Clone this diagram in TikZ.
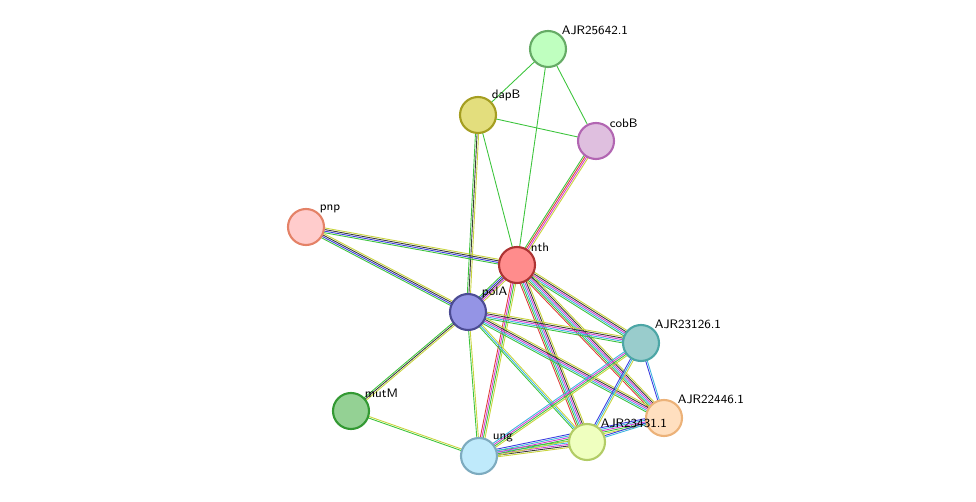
\documentclass[tikz,border=0pt]{standalone}
\usetikzlibrary{calc,backgrounds}
\definecolor{eg}{HTML}{3CC43C}
\definecolor{ey}{HTML}{C8D43C}
\definecolor{ek}{HTML}{3A3A3A}
\definecolor{eb}{HTML}{3C3CE0}
\definecolor{ec}{HTML}{3CB4E0}
\definecolor{em}{HTML}{D43CD4}
\definecolor{er}{HTML}{E03C3C}
\tikzset{
  prot/.style={circle,minimum size=36\unitpx,line width=1.2pt,inner sep=0},
  lbl/.style={anchor=south west,inner sep=0pt,font=\fontsize{7}{8}\sffamily}
}
\newlength\unitpx \setlength\unitpx{0.02cm}
% one line per evidence channel, side by side
\newcommand\edge[3]{%
  \def\nn{0}\foreach \c in {#3}{\xdef\nn{\the\numexpr\nn+1}}%
  \foreach \c [count=\i] in {#3}{%
    \pgfmathsetmacro\o{(\i-(\nn+1)/2)*0.9}%
    \draw[\c,line width=.5pt] ($(#1)!\o pt!90:(#2)$) -- ($(#2)!\o pt!-90:(#1)$);}}
\begin{document}
\begin{tikzpicture}[x=0.02cm,y=-0.02cm]
  \useasboundingbox (0,0) rectangle (976,502);
  \node[prot,draw=green!45!black!60,fill=green!25] (ajr25642) at (548,49) {};
  \node[prot,draw=olive!80,fill=yellow!45!olive!45] (dapB) at (478,115) {};
  \node[prot,draw=violet!60,fill=violet!25] (cobB) at (596,141) {};
  \node[prot,draw=red!40!brown!70,fill=red!20] (pnp) at (306,227) {};
  \node[prot,draw=red!60!black!80,fill=red!45] (nth) at (517,265) {};
  \node[prot,draw=blue!40!black!70,fill=blue!40!white!80!gray] (polA) at (468,312) {};
  \node[prot,draw=teal!70,fill=teal!40] (ajr23126) at (641,343) {};
  \node[prot,draw=green!50!black!80,fill=green!40!gray!60] (mutM) at (351,411) {};
  \node[prot,draw=orange!50!brown!60,fill=orange!25] (ajr22446) at (664,418) {};
  \node[prot,draw=lime!50!gray!80,fill=lime!25] (ajr23431) at (587,442) {};
  \node[prot,draw=cyan!40!gray!90,fill=cyan!25] (ung) at (479,456) {};

  \node[lbl] at (ajr25642.north east) {AJR25642.1};
  \node[lbl] at (dapB.north east) {dapB};
  \node[lbl] at (cobB.north east) {cobB};
  \node[lbl] at (pnp.north east) {pnp};
  \node[lbl] at (nth.north east) {nth};
  \node[lbl] at (polA.north east) {polA};
  \node[lbl] at (ajr23126.north east) {AJR23126.1};
  \node[lbl] at (mutM.north east) {mutM};
  \node[lbl] at (ajr22446.north east) {AJR22446.1};
  \node[lbl] at (ajr23431.north east) {AJR23431.1};
  \node[lbl] at (ung.north east) {ung};

  \begin{pgfonlayer}{background}
    \edge{ajr25642}{dapB}{eg}
    \edge{ajr25642}{cobB}{eg}
    \edge{ajr25642}{nth}{eg}
    \edge{dapB}{cobB}{eg}
    \edge{dapB}{nth}{eg}
    \edge{dapB}{polA}{eg,ek,ey}
    \edge{cobB}{nth}{eg,er,em,ey}
    \edge{pnp}{nth}{eg,eb,ek,ey}
    \edge{pnp}{polA}{eg,eb,ek,ey}
    \edge{nth}{polA}{eg,eb,ek,em,ey}
    \edge{nth}{ajr23126}{eg,ec,em,ek,ey}
    \edge{nth}{ajr22446}{er,eg,ec,em,ek,ey}
    \edge{nth}{ajr23431}{er,eg,ec,em,ek,ey}
    \edge{nth}{ung}{er,em,eg,ey}
    \edge{polA}{ajr23126}{eg,ec,em,ek,ey}
    \edge{polA}{ajr22446}{eg,ec,em,ek,ey}
    \edge{polA}{ajr23431}{eg,ec,ey}
    \edge{polA}{ung}{eg,ey}
    \edge{polA}{mutM}{eg,ek,ey}
    \edge{mutM}{ung}{eg,ey}
    \edge{ajr23126}{ajr23431}{eb,ec,ey}
    \edge{ajr23126}{ung}{ec,em,eg,ey}
    \edge{ajr23126}{ajr22446}{eb,ec}
    \edge{ajr23431}{ung}{eg,ec,em,ek,ey}
    \edge{ajr22446}{ung}{eb,ec,em,eg,ey}
    \edge{ajr22446}{ajr23431}{eb,ec}
  \end{pgfonlayer}
\end{tikzpicture}
\end{document}
